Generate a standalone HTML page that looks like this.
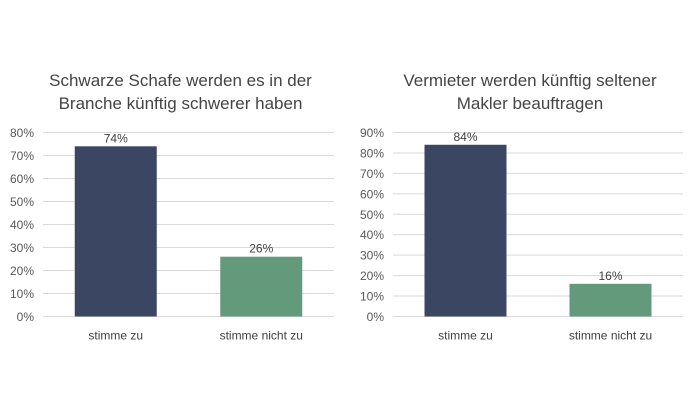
<!DOCTYPE html>
<html><head><meta charset="utf-8"><style>
body{margin:0;background:#fff;width:697px;height:412px;overflow:hidden;font-family:"Liberation Sans",sans-serif}
</style></head><body>
<svg id="svg" width="697" height="412"></svg>
<script>
const categories=["stimme zu","stimme nicht zu"];
const leftValues=[74,26];
const rightValues=[84,16];
const leftTicks=[0,10,20,30,40,50,60,70,80];
const rightTicks=[0,10,20,30,40,50,60,70,80,90];
const colors=["#3a4662","#639a7c"];
const svg=document.getElementById('svg');
const NS="http://www.w3.org/2000/svg";
function mk(tag,attrs,parent){const e=document.createElementNS(NS,tag);for(const k in attrs)e.setAttribute(k,attrs[k]);(parent||svg).appendChild(e);return e;}
function chart(cfg,values,ticks,titleLines,name){
  const g=mk('g',{});
  
  
  const max=ticks[ticks.length-1];
  const y=v=>cfg.y0-(v/max)*(cfg.y0-cfg.yTop);
  const band=(cfg.x1-cfg.x0)/categories.length;
  const xc=i=>cfg.x0+band*(i+0.5);
  titleLines.forEach((t,i)=>{const e=mk('text',{x:(cfg.x0+cfg.x1)/2-8,y:86+i*23,'text-anchor':'middle','font-size':17,fill:'#444'},g);e.textContent=t;
    
    });
  ticks.forEach(t=>{
    const l=mk('line',{x1:cfg.x0,x2:cfg.x1,y1:y(t),y2:y(t),stroke:'#d9d9d9','stroke-width':1},g);
    
    
    const e=mk('text',{x:cfg.x0-9,y:y(t)+4.5,'text-anchor':'end','font-size':12,fill:'#595959'},g);
    e.textContent=t+'%';
    
    
  });
  values.forEach((v,i)=>{
    const bw=82;
    const r=mk('rect',{x:xc(i)-bw/2,y:y(v),width:bw,height:cfg.y0-y(v),fill:colors[i]},g);
    
    
    const lb=mk('text',{x:xc(i),y:y(v)-4,'text-anchor':'middle','font-size':12,fill:'#404040'},g);
    lb.textContent=v+'%';
    
    
    const c=mk('text',{x:xc(i),y:cfg.y0+23,'text-anchor':'middle','font-size':12,fill:'#404040'},g);
    c.textContent=categories[i];
    
    
  });
}
chart({x0:43,x1:334,y0:316.5,yTop:132.5},leftValues,leftTicks,["Schwarze Schafe werden es in der","Branche künftig schwerer haben"],'left-chart');
chart({x0:393,x1:683,y0:316.5,yTop:132.5},rightValues,rightTicks,["Vermieter werden künftig seltener","Makler beauftragen"],'right-chart');
</script>
</body></html>
